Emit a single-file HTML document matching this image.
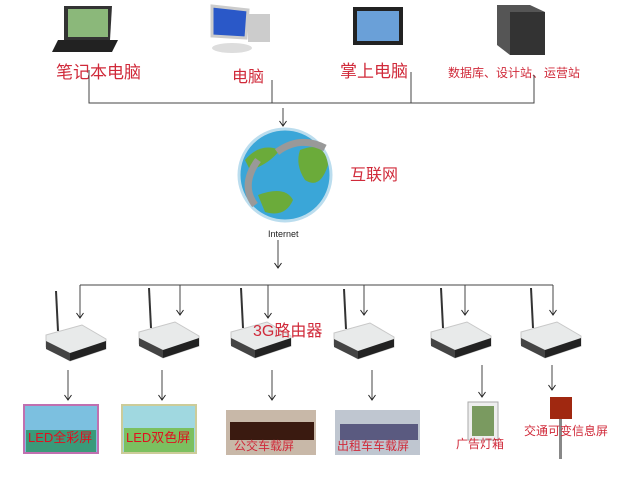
<!DOCTYPE html>
<html><head><meta charset="utf-8"><style>
body{margin:0;background:#fff;}
svg{display:block;font-family:"Liberation Sans","Noto Sans CJK SC",sans-serif;}
.r{fill:#d02a3a;}
</style></head><body>
<svg width="629" height="481" viewBox="0 0 629 481">
<defs>
<marker id="a" markerWidth="8" markerHeight="8" refX="7" refY="4" orient="auto" markerUnits="userSpaceOnUse"><path d="M2,0.5 L7,4 L2,7.5" fill="none" stroke="#222" stroke-width="1"/></marker>
<g id="router">
<line x1="12" y1="0" x2="14" y2="40" stroke="#333" stroke-width="2"/>
<path d="M2,44 L38,34 L62,48 L62,58 L26,70 L2,56 Z" fill="#e8eaea" stroke="#c8c8c8"/>
<path d="M2,50 L26,62 L26,70 L2,58 Z" fill="#444"/>
<path d="M26,62 L62,50 L62,58 L26,70 Z" fill="#222"/>
</g>
</defs>
<path d="M64,6 L112,6 L110,40 L64,40 Z" fill="#333"/><rect x="68" y="9" width="40" height="28" fill="#8bb87a"/>
<path d="M58,40 L118,40 L112,52 L52,52 Z" fill="#222"/>
<path d="M212,6 L248,10 L246,38 L212,36 Z" fill="#2a58c8" stroke="#ccc" stroke-width="3"/>
<ellipse cx="232" cy="48" rx="20" ry="5" fill="#ddd"/><rect x="248" y="14" width="22" height="28" fill="#ccc"/>
<rect x="353" y="7" width="50" height="38" fill="#222"/><rect x="357" y="11" width="42" height="30" fill="#6aa0d8"/>
<path d="M497,5 L530,5 L545,12 L545,55 L510,55 L497,45 Z" fill="#555"/><rect x="510" y="12" width="35" height="43" fill="#333"/>
<text x="56" y="78" class="r" font-size="17">笔记本电脑</text>
<text x="232" y="82" class="r" font-size="16">电脑</text>
<text x="340" y="77" class="r" font-size="17">掌上电脑</text>
<text x="448" y="77" class="r" font-size="12">数据库、设计站、运营站</text>
<g stroke="#444" stroke-width="1" fill="none">
<path d="M89,70 V103 H534 V75 M272,80 V103 M411,72 V103"/>
<line x1="283" y1="108" x2="283" y2="126" marker-end="url(#a)"/>
<line x1="278" y1="240" x2="278" y2="268" marker-end="url(#a)"/>
<path d="M80,285 H553"/>
<line x1="80" y1="285" x2="80" y2="318" marker-end="url(#a)"/>
<line x1="180" y1="285" x2="180" y2="315" marker-end="url(#a)"/>
<line x1="268" y1="285" x2="268" y2="318" marker-end="url(#a)"/>
<line x1="364" y1="285" x2="364" y2="315" marker-end="url(#a)"/>
<line x1="465" y1="285" x2="465" y2="315" marker-end="url(#a)"/>
<line x1="553" y1="285" x2="553" y2="315" marker-end="url(#a)"/>
<line x1="68" y1="370" x2="68" y2="400" marker-end="url(#a)"/>
<line x1="162" y1="370" x2="162" y2="400" marker-end="url(#a)"/>
<line x1="272" y1="370" x2="272" y2="400" marker-end="url(#a)"/>
<line x1="372" y1="370" x2="372" y2="400" marker-end="url(#a)"/>
<line x1="482" y1="365" x2="482" y2="397" marker-end="url(#a)"/>
<line x1="552" y1="365" x2="552" y2="390" marker-end="url(#a)"/>
</g>
<circle cx="285" cy="175" r="46" fill="#3aa6d8" stroke="#bde" stroke-width="3"/>
<path d="M300,150 Q325,140 328,165 Q320,190 305,180 Q295,165 300,150Z" fill="#6bab3a"/>
<path d="M258,195 Q285,185 293,200 Q285,218 265,212 Z" fill="#6bab3a"/>
<path d="M245,160 Q260,142 280,150 Q268,165 250,170Z" fill="#6bab3a"/>
<path d="M277,152 Q300,135 325,148" stroke="#999" stroke-width="7" fill="none"/>
<path d="M255,205 Q240,185 258,160" stroke="#999" stroke-width="7" fill="none"/>
<text x="350" y="180" class="r" font-size="16">互联网</text>
<text x="268" y="237" font-size="9" fill="#222">Internet</text>
<use href="#router" x="44" y="291"/>
<use href="#router" x="137" y="288"/>
<use href="#router" x="229" y="288"/>
<use href="#router" x="332" y="289"/>
<use href="#router" x="429" y="288"/>
<use href="#router" x="519" y="288"/>
<text x="253" y="336" class="r" font-size="16">3G路由器</text>
<rect x="24" y="405" width="74" height="48" fill="#7cc0e0" stroke="#c070b0" stroke-width="2"/><rect x="26" y="430" width="70" height="22" fill="#3a9a7a"/>
<rect x="122" y="405" width="74" height="48" fill="#a0d8e0" stroke="#cc9" stroke-width="2"/><rect x="124" y="428" width="70" height="24" fill="#7cc060"/>
<rect x="226" y="410" width="90" height="45" fill="#c8b8a8"/><rect x="230" y="422" width="84" height="18" fill="#3a1a10"/>
<rect x="335" y="410" width="85" height="45" fill="#bfc6d0"/><rect x="340" y="424" width="78" height="16" fill="#5a5a80"/>
<rect x="468" y="402" width="30" height="38" fill="#eee" stroke="#aaa"/><rect x="472" y="406" width="22" height="30" fill="#7a9a60"/>
<rect x="550" y="397" width="22" height="22" fill="#a02810"/><rect x="559" y="419" width="3" height="40" fill="#888"/>
<text x="28" y="442" fill="#e01020" font-size="13">LED全彩屏</text>
<text x="126" y="442" fill="#e01020" font-size="13">LED双色屏</text>
<text x="234" y="450" class="r" font-size="12">公交车载屏</text>
<text x="337" y="450" class="r" font-size="12">出租车车载屏</text>
<text x="456" y="448" class="r" font-size="12">广告灯箱</text>
<text x="524" y="435" class="r" font-size="12">交通可变信息屏</text>
</svg>
</body></html>
